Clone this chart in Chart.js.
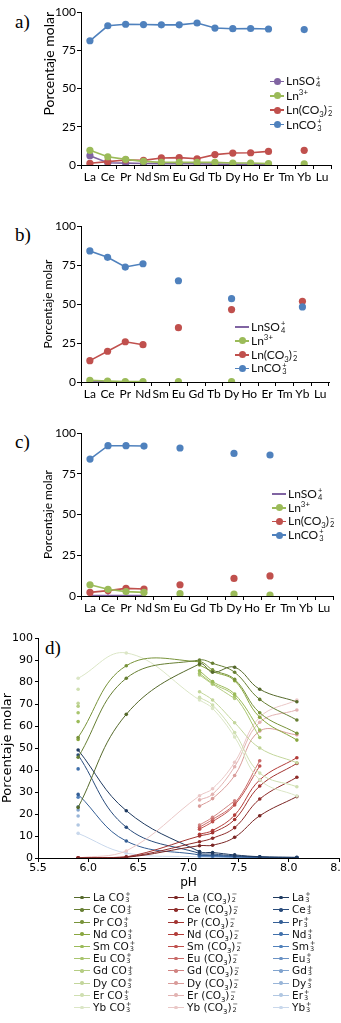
<!DOCTYPE html>
<html><head><meta charset="utf-8">
<script src="https://cdn.jsdelivr.net/npm/chart.js@4.4.0/dist/chart.umd.min.js"></script>
<style>
html,body{margin:0;padding:0;background:#fff;width:341px;height:1023px;overflow:hidden;position:relative;}
canvas{position:absolute;left:0;}
.lbl{position:absolute;font-family:"Liberation Serif","DejaVu Serif",serif;font-size:19px;line-height:19px;color:#000;}
.leg{position:absolute;font-family:Lato,"Open Sans",sans-serif;font-size:12px;color:#111;}
.leg .it{height:14px;display:flex;align-items:center;white-space:nowrap;}
.mk{position:relative;width:14px;height:14px;margin-right:2px;flex:none;}
.mk .ln{position:absolute;left:0;right:0;top:6.5px;height:1.5px;}
.mk .dt{position:absolute;border-radius:50%;}
.ss{display:inline-flex;flex-direction:column;font-size:0.62em;line-height:0.9;vertical-align:middle;margin-left:1px;}
sub,sup{font-size:0.65em;line-height:0;}
.dleg{position:absolute;font-family:"DejaVu Sans",Verdana,sans-serif;font-size:10.5px;color:#111;}
.dleg .it{position:absolute;height:12px;display:flex;align-items:center;white-space:nowrap;}
.dleg .mk{width:16px;height:12px;margin-right:3px;}
.dleg .mk .ln{top:5.5px;height:1px;}
</style></head><body>
<div class="lbl" style="left:15px;top:12px">a)</div>
<div class="lbl" style="left:15px;top:225px">b)</div>
<div class="lbl" style="left:15px;top:432px">c)</div>
<div class="lbl" style="left:45px;top:638px">d)</div>
<canvas id="ca" width="341" height="195" style="top:0px;width:341px;height:195px"></canvas>
<canvas id="cb" width="341" height="210" style="top:195px;width:341px;height:210px"></canvas>
<canvas id="cc" width="341" height="215" style="top:405px;width:341px;height:215px"></canvas>
<canvas id="cd" width="360" height="280" style="top:620px;width:360px;height:280px"></canvas>
<div id="lega" class="leg" style="left:270px;top:74px"></div>
<div id="legb" class="leg" style="left:235px;top:320px"></div>
<div id="legc" class="leg" style="left:272px;top:487px"></div>
<div id="legd" class="dleg" style="left:0;top:0;width:341px;height:1023px"></div>
<script>
// ---------- DATA ----------
const categories = ['La','Ce','Pr','Nd','Sm','Eu','Gd','Tb','Dy','Ho','Er','Tm','Yb','Lu'];
const yTicksABC = [0, 25, 50, 75, 100];

// panel a
const aLnSO4 = [6.1, 1.5, 1.2, 1.0, 0.9, 0.8, 0.8, 0.6, 0.5, 0.5, 0.4, null, null, null];
const aLn3   = [9.6, 5.4, 3.7, 2.4, 1.7, 1.7, 1.7, 1.7, 1.3, 1.3, 0.9, null, 0.8, null];
const aCO32  = [1.1, 2.2, 3.3, 3.0, 4.6, 4.8, 4.1, 6.8, 7.8, 8.0, 8.9, null, 9.6, null];
const aCO3   = [81.2, 91.0, 92.0, 91.8, 91.6, 91.6, 92.8, 89.5, 89.1, 89.2, 88.9, null, 88.5, null];

// panel b
const bLnSO4 = [0.2, 0.1, 0.1, 0.1, null, 0.1, null, null, 0.1, null, null, null, null, null];
const bLn3   = [1.1, 0.6, 0.3, 0.3, null, 0.3, null, null, 0.3, null, null, null, null, null];
const bCO32  = [13.7, 19.7, 25.8, 23.9, null, 34.8, null, null, 46.4, null, null, null, 51.7, null];
const bCO3   = [84.0, 79.9, 73.7, 75.8, null, 64.9, null, null, 53.4, null, null, null, 48.1, null];

// panel c
const cLnSO4 = [0.3, 0.2, 0.2, 0.2, null, 0.1, null, null, 0.1, null, 0.1, null, null, null];
const cLn3   = [6.9, 4.1, 2.7, 2.2, null, 1.4, null, null, 1.2, null, 0.6, null, null, null];
const cCO32  = [2.2, 3.3, 4.7, 4.3, null, 6.9, null, null, 10.8, null, 12.3, null, null, null];
const cCO3   = [84.0, 92.2, 92.2, 92.0, null, 90.8, null, null, 87.5, null, 86.5, null, null, null];

// panel d
const phValues = [5.9, 6.38, 7.11, 7.24, 7.46, 7.71, 8.08];
const dElements = ['La','Ce','Pr','Nd','Sm','Eu','Gd','Dy','Er','Yb'];
const laCO3 = [23.0, 65.3, 88.2, 84.4, 86.7, 76.7, 71.0];
const ceCO3 = [45.8, 81.7, 90.0, 88.5, 84.4, 72.1, 62.7];
const prCO3 = [54.8, 87.4, 89.2, 85.5, 81.2, 66.0, 56.7];
const ndCO3 = [53.9, null, 87.7, 84.8, 80.6, 64.0, 53.6];
const smCO3 = [62.0, null, 85.1, 80.2, 74.5, 58.2, null];
const euCO3 = [66.0, null, 83.9, 79.4, 73.5, 54.8, null];
const gdCO3 = [69.0, null, 83.2, 79.0, 72.5, null, null];
const dyCO3 = [70.3, null, 75.6, 71.8, 61.5, 50.0, 43.3];
const erCO3 = [76.7, null, 73.0, 69.5, 57.0, 38.6, 32.4];
const ybCO3 = [81.7, 93.2, 71.8, 68.0, 55.0, 35.5, 28.2];

const laCO32 = [0.0, 0.3, 5.6, 5.8, 9.4, 19.2, 27.9];
const ceCO32 = [0.0, 0.4, 7.4, 9.0, 13.8, 26.8, 36.7];
const prCO32 = [0.0, 0.5, 10.0, 11.5, 17.5, 32.7, 43.0];
const ndCO32 = [0.0, null, 10.8, 12.5, 19.5, 35.5, 45.6];
const smCO32 = [0.0, null, 13.1, 16.5, 24.1, 41.8, null];
const euCO32 = [0.0, null, 14.0, 17.5, 24.8, 44.2, null];
const gdCO32 = [0.0, null, 15.0, 18.5, 26.0, null, null];
const dyCO32 = [0.0, null, 23.6, 27.0, 37.5, 57.7, 56.0];
const erCO32 = [0.0, null, 26.4, 29.0, 41.5, 61.7, 67.3];
const ybCO32 = [0.0, 3.2, 28.3, 31.5, 43.5, 64.0, 71.8];

const laLn3 = [49.1, 21.5, 2.9, 2.5, 1.4, 0.6, 0.3];
const ceLn3 = [46.8, 14.0, 2.1, 1.8, 1.0, 0.5, 0.2];
const prLn3 = [28.9, 7.7, 1.4, 1.2, 0.7, 0.3, 0.1];
const ndLn3 = [40.5, null, 1.3, 1.1, 0.7, 0.3, 0.1];
const smLn3 = [27.6, null, 1.0, 0.9, 0.5, 0.2, null];
const euLn3 = [23.3, null, 0.9, 0.8, 0.4, 0.2, null];
const gdLn3 = [21.8, null, 0.8, 0.7, 0.4, null, null];
const dyLn3 = [19.1, null, 0.7, 0.6, 0.3, 0.1, 0.1];
const erLn3 = [15.0, null, 0.6, 0.5, 0.3, 0.1, 0.1];
const ybLn3 = [11.2, 2.2, 0.5, 0.4, 0.2, 0.1, 0.1];

// ---------- STYLES ----------
const cPurple = '#8064a2', cGreen = '#9bbb59', cRed = '#c0504d', cBlue = '#4f81bd';
const greens = ['#55692b','#677f33','#78933a','#89a73f','#9bbb59','#a9c56e','#b5cd83','#c3d69b','#cfdfb1','#dbe6c6'];
const reds   = ['#7a2624','#8e2c2a','#a23431','#b33c39','#c0504d','#c96b69','#d18482','#d99c9a','#e2b3b2','#eac8c7'];
const blues  = ['#1f3a60','#284b7b','#345e95','#4070ab','#5181bb','#6a92c5','#80a3ce','#99b5d8','#b1c7e2','#c9d8ec'];

Chart.defaults.animation = false;
Chart.defaults.color = '#000';

function ss(t, b){ return '<span class="ss"><span>' + t + '</span><span>' + b + '</span></span>'; }
const speciesLabels = ['LnSO' + ss('+','4'), 'Ln<sup>3+</sup>', 'Ln(CO<sub>3</sub>)' + ss('&#8722;','2'), 'LnCO' + ss('+','3')];
const speciesColors = [cPurple, cGreen, cRed, cBlue];

function catChart(id, series, padTop, xH, padRight, titleSize, titleAlign, so4Radius) {
  const ds = series.map((arr, i) => ({
    data: arr,
    borderColor: speciesColors[i],
    backgroundColor: speciesColors[i],
    pointBackgroundColor: speciesColors[i],
    pointBorderWidth: 0,
    borderWidth: 1.6,
    pointRadius: i === 0 ? so4Radius : 3.6,
    spanGaps: false,
    tension: 0,
    order: [3, 1, 2, 0][i]
  }));
  return new Chart(document.getElementById(id), {
    type: 'line',
    data: { labels: categories, datasets: ds },
    options: {
      responsive: false, devicePixelRatio: 1, events: [],
      layout: { padding: { left: 38, right: padRight, top: padTop, bottom: 0 } },
      plugins: { legend: { display: false }, tooltip: { enabled: false } },
      scales: {
        x: {
          type: 'category', offset: true,
          grid: { offset: true, drawOnChartArea: false, drawTicks: true, tickLength: 4, color: '#000' },
          border: { display: true, color: '#000', width: 1 },
          ticks: { padding: 1, font: { family: 'Lato', size: 12 }, color: '#000', maxRotation: 0, autoSkip: false },
          afterFit: s => { s.height = xH; }
        },
        y: {
          min: 0, max: 100,
          afterBuildTicks: s => { s.ticks = yTicksABC.map(v => ({ value: v })); },
          grid: { drawOnChartArea: false, drawTicks: true, tickLength: 4, color: '#000' },
          border: { display: true, color: '#000', width: 1 },
          ticks: { padding: 1, font: { family: 'Lato', size: 12 }, color: '#000' },
          title: { display: true, text: 'Porcentaje molar', align: titleAlign, font: { family: 'Lato', size: titleSize }, padding: { top: 3, bottom: 0 } },
          afterFit: s => { s.width = 43; }
        }
      }
    }
  });
}

catChart('ca', [aLnSO4, aLn3, aCO32, aCO3], 12, 30, 10, 14, 'end', 3.6);
catChart('cb', [bLnSO4, bLn3, bCO32, bCO3], 31, 23, 12, 12, 'center', 1.5);
catChart('cc', [cLnSO4, cLn3, cCO32, cCO3], 28, 24, 8, 12, 'center', 1.5);

function buildLegend(id, rowH, so4Dot) {
  const el = document.getElementById(id);
  speciesLabels.forEach((lab, i) => {
    const r = (i === 0) ? so4Dot : 3.5;
    el.insertAdjacentHTML('beforeend',
      '<div class="it" style="height:' + rowH + 'px"><span class="mk"><span class="ln" style="background:' + speciesColors[i] + '"></span>' +
      '<span class="dt" style="background:' + speciesColors[i] + ';width:' + (2*r) + 'px;height:' + (2*r) + 'px;left:' + (7-r) + 'px;top:' + (7.25-r) + 'px"></span></span>' +
      '<span>' + lab + '</span></div>');
  });
}
buildLegend('lega', 14.4, 3.5);
buildLegend('legb', 13.8, 1.2);
buildLegend('legc', 13.7, 1.2);

// panel d
const dCO3 = [laCO3, ceCO3, prCO3, ndCO3, smCO3, euCO3, gdCO3, dyCO3, erCO3, ybCO3];
const dCO32 = [laCO32, ceCO32, prCO32, ndCO32, smCO32, euCO32, gdCO32, dyCO32, erCO32, ybCO32];
const dLn3 = [laLn3, ceLn3, prLn3, ndLn3, smLn3, euLn3, gdLn3, dyLn3, erLn3, ybLn3];
const dLabelsCO3 = dElements.map(e => e + ' CO' + ss('+','3'));
const dLabelsCO32 = dElements.map(e => e + ' (CO<sub>3</sub>)' + ss('&#8722;','2'));
const dLabelsLn3 = dElements.map(e => e + ss('+','3'));

function mkDs(arr, color) {
  return {
    data: phValues.map((x, i) => ({ x: x, y: arr[i] })),
    borderColor: color, backgroundColor: color, pointBackgroundColor: color,
    pointBorderWidth: 0, borderWidth: 1, pointRadius: 1.8, tension: 0.4, spanGaps: false
  };
}
const dDatasets = [];
dCO3.forEach((a, i) => dDatasets.push(mkDs(a, greens[i])));
dCO32.forEach((a, i) => dDatasets.push(mkDs(a, reds[i])));
dLn3.forEach((a, i) => dDatasets.push(mkDs(a, blues[i])));

new Chart(document.getElementById('cd'), {
  type: 'line',
  data: { datasets: dDatasets },
  options: {
    responsive: false, devicePixelRatio: 1, events: [],
    layout: { padding: { left: 0, right: 21, top: 18, bottom: 0 } },
    plugins: { legend: { display: false }, tooltip: { enabled: false } },
    scales: {
      x: {
        type: 'linear', min: 5.5, max: 8.5,
        ticks: { stepSize: 0.5, padding: 0, font: { family: 'DejaVu Sans', size: 11 }, color: '#000' },
        grid: { drawOnChartArea: false, drawTicks: true, tickLength: 4, color: '#000' },
        border: { display: true, color: '#000', width: 1 },
        title: { display: true, text: 'pH', font: { family: 'DejaVu Sans', size: 12 }, padding: { top: 0, bottom: 10 } },
        afterFit: s => { s.height = 42; }
      },
      y: {
        min: 0, max: 100,
        ticks: { stepSize: 10, padding: 2, font: { family: 'DejaVu Sans', size: 11 }, color: '#000' },
        grid: { drawOnChartArea: false, drawTicks: true, tickLength: 3, color: '#000' },
        border: { display: true, color: '#000', width: 1 },
        title: { display: true, text: 'Porcentaje molar', font: { family: 'DejaVu Sans', size: 13 }, padding: { top: 0, bottom: 0 } },
        afterFit: s => { s.width = 38; }
      }
    }
  }
});

// legend d (three columns built from the dataset labels and colours)
(function(){
  const el = document.getElementById('legd');
  const cols = [
    { mk: 74, labels: dLabelsCO3, colors: greens },
    { mk: 168, labels: dLabelsCO32, colors: reds },
    { mk: 273, labels: dLabelsLn3, colors: blues }
  ];
  cols.forEach(c => {
    c.labels.forEach((lab, i) => {
      const cy = 897.7 + i * 12.2;
      el.insertAdjacentHTML('beforeend',
        '<div class="it" style="left:' + c.mk + 'px;top:' + (cy - 6) + 'px"><span class="mk"><span class="ln" style="background:' + c.colors[i] + '"></span>' +
        '<span class="dt" style="background:' + c.colors[i] + ';width:3.6px;height:3.6px;left:6.2px;top:4.2px"></span></span><span>' + lab + '</span></div>');
    });
  });
})();
</script>
</body></html>
